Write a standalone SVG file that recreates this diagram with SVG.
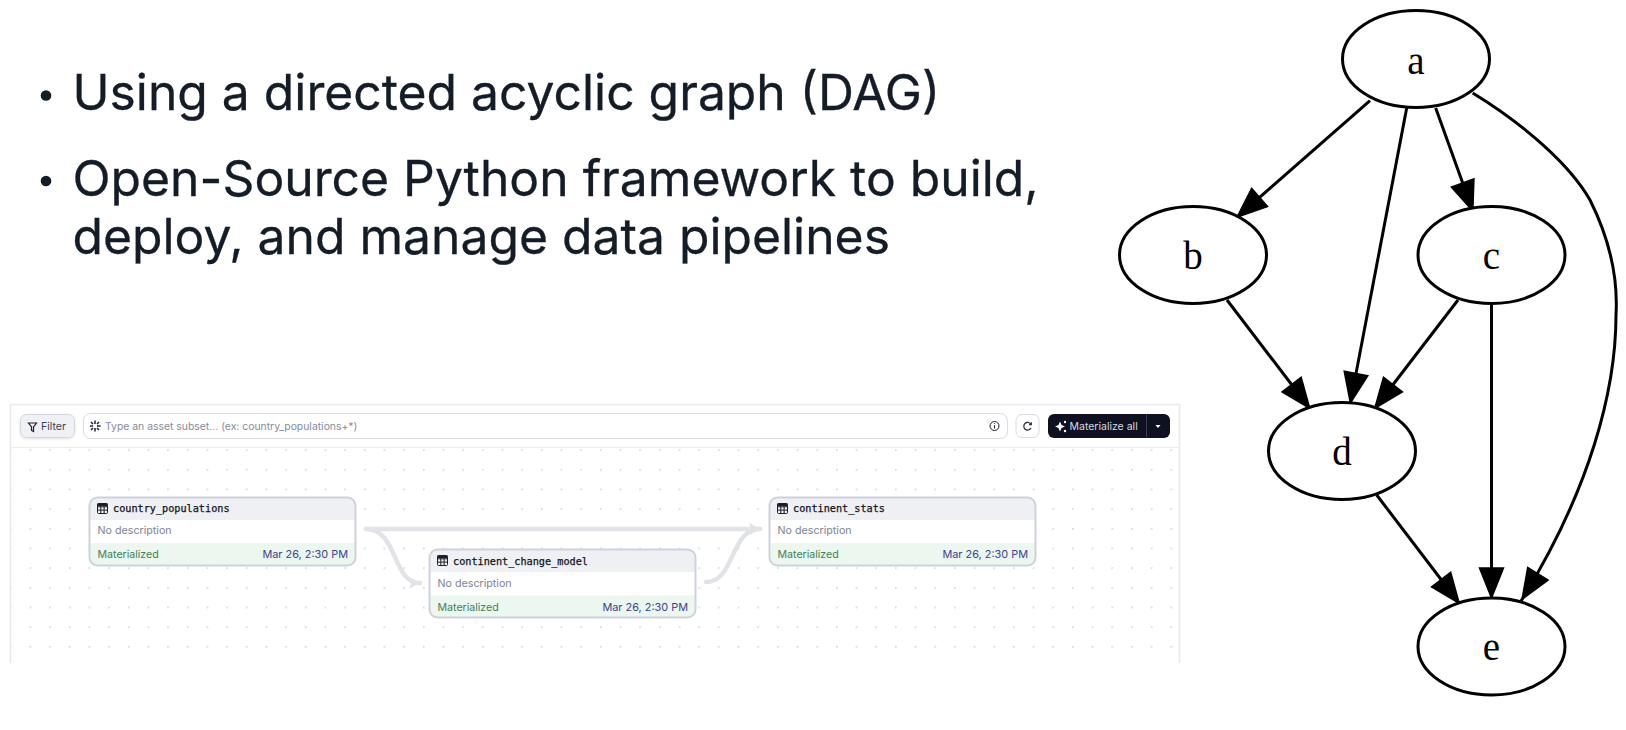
<svg xmlns="http://www.w3.org/2000/svg" width="1626" height="730" viewBox="0 0 1626 730">
<style>
.bul{font-family:Inter,"Noto Sans","Liberation Sans",sans-serif;font-size:49.800px;fill:#131c27;stroke:#131c27;stroke-width:.3}
.g-n{fill:#fff;stroke:#000;stroke-width:3}
.g-t{font-family:"Liberation Serif",serif;font-size:39px;text-anchor:middle;fill:#000}
.g-e{fill:none;stroke:#000;stroke-width:3;marker-end:url(#ah)}
.ui{font-family:Inter,"Noto Sans","Liberation Sans",sans-serif;font-size:10.5px}
.title{font-family:"DejaVu Sans Mono","Liberation Mono",monospace;font-size:10.2px;fill:#0f1420;stroke:#0f1420;stroke-width:.25}
.desc{fill:#7d8497;font-size:10.7px}
.mat{fill:#3f8058;font-size:10.6px}
.time{fill:#3b3f90;text-anchor:end;font-size:10.9px}
.nb{fill:#fff;stroke:none}
.nh{fill:#eff0f3}
.nf{fill:#ebf7ef}
.nbd{fill:none;stroke:#cdd2db;stroke-width:2}
.ed{fill:none;stroke:#e2e3e7;stroke-width:4.5;stroke-linecap:round}
.ic{fill:none;stroke:#1a1f2b;stroke-width:1}
</style>
<defs>
<marker id="ah" markerUnits="userSpaceOnUse" markerWidth="38" markerHeight="28" refX="34" refY="14" orient="auto"><path d="M2,2L32,14L2,26Z" fill="#000" stroke="#000" stroke-width="1.500"/></marker>
<marker id="uah" markerUnits="userSpaceOnUse" markerWidth="14" markerHeight="14" refX="11" refY="6" orient="auto"><path d="M0,0L11,6L0,12L2.500,6Z" fill="#e2e3e7"/></marker>
<pattern id="dots" patternUnits="userSpaceOnUse" x="9.830" y="429.530" width="19.670" height="19.670"><circle cx="0.800" cy="0.800" r="1.100" fill="#d9dbe1"/></pattern>
<clipPath id="c1"><rect x="89.500" y="497.500" width="266" height="68" rx="8"/></clipPath>
<clipPath id="c2"><rect x="429.500" y="549.500" width="266" height="68" rx="8"/></clipPath>
<clipPath id="c3"><rect x="769.500" y="497.500" width="266" height="68" rx="8"/></clipPath>
<g id="tbl"><rect x="0" y="0" width="10" height="10" rx="1" class="ic"/><path d="M0,3.300H10M0,6.600H10M3.300,0V10M6.600,0V10" class="ic"/><rect x="0" y="0" width="10" height="2.500" fill="#1a1f2b"/></g>
<filter id="sh" x="-20%" y="-20%" width="140%" height="150%"><feDropShadow dx="0" dy="1" stdDeviation="1.500" flood-color="#000" flood-opacity=".12"/></filter>
</defs>
<rect width="1626" height="730" fill="#fff"/>

<g id="bullets">
<circle cx="46" cy="95.500" r="5.300" fill="#131c27"/>
<circle cx="46" cy="181" r="5.300" fill="#131c27"/>
<text class="bul" x="72.500" y="110">Using a directed acyclic graph (DAG)</text>
<text class="bul" x="72.500" y="196">Open-Source Python framework to build,</text>
<text class="bul" x="72.500" y="254">deploy, and manage data pipelines</text>
</g>

<g id="panel">
<path d="M10.500,663V404.500H1179.500V663" fill="#fff" stroke="#e9eaee" stroke-width="1.600"/>
<path d="M10.500,447.500H1179.500" stroke="#e9ebee" stroke-width="1"/>
<rect x="11.300" y="448" width="1167.400" height="215" fill="url(#dots)"/>
</g>

<g id="toolbar">
<g id="filter">
<rect x="20.500" y="414.500" width="54" height="23" rx="6" fill="#f0f1f4" stroke="#d3d6de" filter="url(#sh)"/>
<path d="M28.500,423H36.500L33.500,427V431.500L31.500,430.500V427Z" fill="none" stroke="#1a1f2b" stroke-width="1.200"/>
<text class="ui" x="41" y="430" fill="#3a4050">Filter</text>
</g>
<g id="search">
<rect x="83.500" y="413.500" width="924" height="25" rx="7" fill="#fff" stroke="#d7dae1"/>
<path d="M95,420.500V424M95,428V431.500M90,426H93M97,426H100.500M91,422L93,424M97,428L99,430M91,430L93,428M99,422L97,424" stroke="#1a1f2b" stroke-width="1.500" fill="none"/>
<text class="ui" x="105" y="430" fill="#858b9c" style="font-size:10.400px">Type an asset subset... (ex: country_populations+*)</text>
<circle cx="994.500" cy="426" r="4.500" fill="none" stroke="#1a1f2b"/>
<path d="M994.500,425.200V428.500M994.500,423.200V424" stroke="#1a1f2b"/>
</g>
<g id="refresh">
<rect x="1016" y="414.500" width="23" height="23" rx="6" fill="#fff" stroke="#d7dae1"/>
<path d="M1031,424.500A3.800,3.800 0 1 0 1031,428" fill="none" stroke="#1a1f2b" stroke-width="1.200"/>
<path d="M1031.800,421.800V425.200H1028.500Z" fill="#1a1f2b"/>
</g>
<g id="materialize">
<path d="M1054,414H1164A6,6 0 0 1 1170,420V432A6,6 0 0 1 1164,438H1054A6,6 0 0 1 1048,432V420A6,6 0 0 1 1054,414Z" fill="#0e1220"/>
<path d="M1146.500,414V438" stroke="#3a3e4c"/>
<path d="M1060,421.500L1061.500,425L1065,426.500L1061.500,428L1060,431.500L1058.500,428L1055,426.500L1058.500,425Z" fill="#fff"/>
<circle cx="1065" cy="422" r="1.200" fill="#fff"/><circle cx="1065" cy="431" r="1.200" fill="#fff"/>
<text class="ui" x="1069.500" y="430" fill="#d8dae0">Materialize all</text>
<path d="M1155.500,425H1160.500L1158,428Z" fill="#fff"/>
</g>
</g>

<g id="connectors-ui">
<path class="ed" d="M366,529H760" marker-end="url(#uah)"/>
<path class="ed" d="M366,529C398,529 392,583 420,583" marker-end="url(#uah)"/>
<path class="ed" d="M706,582C735,582 730,529 760,529" marker-end="url(#uah)"/>
</g>

<g id="node-country_populations">
<rect class="nb" x="89" y="497" width="267" height="69" rx="8"/>
<g clip-path="url(#c1)"><rect class="nh" x="89" y="497" width="267" height="23"/><rect class="nf" x="89" y="543" width="267" height="23"/></g>
<rect class="nbd" x="89.500" y="497.500" width="266" height="68" rx="8"/>
<use href="#tbl" x="97.500" y="503.500"/>
<text class="title" x="113" y="512">country_populations</text>
<text class="ui desc" x="97.500" y="534">No description</text>
<text class="ui mat" x="97.500" y="557.500">Materialized</text>
<text class="ui time" x="348" y="557.500">Mar 26, 2:30 PM</text>
</g>

<g id="node-continent_change_model">
<rect class="nb" x="429" y="549" width="267" height="69" rx="8"/>
<g clip-path="url(#c2)"><rect class="nh" x="429" y="549" width="267" height="23"/><rect class="nf" x="429" y="595.500" width="267" height="23"/></g>
<rect class="nbd" x="429.500" y="549.500" width="266" height="68" rx="8"/>
<use href="#tbl" x="437.500" y="555.500"/>
<text class="title" x="453" y="564.500">continent_change_model</text>
<text class="ui desc" x="437.500" y="587">No description</text>
<text class="ui mat" x="437.500" y="610.500">Materialized</text>
<text class="ui time" x="688" y="610.500">Mar 26, 2:30 PM</text>
</g>

<g id="node-continent_stats">
<rect class="nb" x="769" y="497" width="267" height="69" rx="8"/>
<g clip-path="url(#c3)"><rect class="nh" x="769" y="497" width="267" height="23"/><rect class="nf" x="769" y="543" width="267" height="23"/></g>
<rect class="nbd" x="769.500" y="497.500" width="266" height="68" rx="8"/>
<use href="#tbl" x="777.500" y="503.500"/>
<text class="title" x="793" y="512">continent_stats</text>
<text class="ui desc" x="777.500" y="534">No description</text>
<text class="ui mat" x="777.500" y="557.500">Materialized</text>
<text class="ui time" x="1028" y="557.500">Mar 26, 2:30 PM</text>
</g>

<g id="connectors">
<path class="g-e" d="M1370,100.700L1235.500,218.500"/>
<path class="g-e" d="M1406.700,108L1350,405"/>
<path class="g-e" d="M1435.700,108L1473.500,213"/>
<path class="g-e" d="M1472.700,93C1525,125 1570,165 1590,200C1610,240 1618,280 1616,315C1616,390 1590,490 1521,601"/>
<path class="g-e" d="M1227,300L1311,410"/>
<path class="g-e" d="M1458,300L1373.500,410"/>
<path class="g-e" d="M1491.500,304V600"/>
<path class="g-e" d="M1376.700,495L1460.500,605"/>
</g>

<g id="node-a"><ellipse class="g-n" cx="1416" cy="59" rx="73.500" ry="48.500"/><text class="g-t" x="1416" y="74">a</text></g>
<g id="node-b"><ellipse class="g-n" cx="1193" cy="255" rx="73.500" ry="48.500"/><text class="g-t" x="1193" y="269">b</text></g>
<g id="node-c"><ellipse class="g-n" cx="1491.500" cy="255" rx="73.500" ry="48.500"/><text class="g-t" x="1491.500" y="269">c</text></g>
<g id="node-d"><ellipse class="g-n" cx="1342" cy="451" rx="73.500" ry="48.500"/><text class="g-t" x="1342" y="465">d</text></g>
<g id="node-e"><ellipse class="g-n" cx="1491.500" cy="646.500" rx="73.500" ry="48.500"/><text class="g-t" x="1491.500" y="660">e</text></g>
</svg>
